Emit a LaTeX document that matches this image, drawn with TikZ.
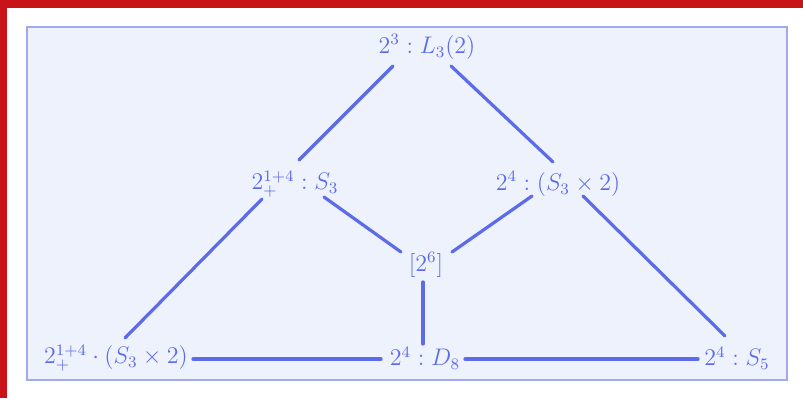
\documentclass[tikz,border=0pt]{standalone}
\usepackage{tikz}
\usetikzlibrary{positioning,calc}
\definecolor{frame}{RGB}{200,20,25}
\definecolor{panel}{RGB}{238,242,253}
\definecolor{rim}{RGB}{160,168,242}
\definecolor{ink}{RGB}{92,108,232}
\tikzset{
  grp/.style={text=ink, font=\large, inner sep=2pt},
  incl/.style={draw=ink, line width=1.6pt, line cap=round}
}

\begin{document}
\begin{tikzpicture}[x=0.5pt, y=-0.5pt]
  \fill[frame] (0,0) rectangle (803,398);
  \fill[white] (7,8) rectangle (803,398);
  \useasboundingbox (0,0) rectangle (803,398);
  \draw[rim, fill=panel, line width=1pt] (27,27) rectangle (787,380);
  % subgroups
  \node[grp] (top) at (427,47) {$2^3:L_3(2)$};
  \node[grp] (lmid) at (295,184) {$2^{1+4}_{+}:S_3$};
  \node[grp] (rmid) at (558,184) {$2^4:(S_3\times 2)$};
  \node[grp] (core) at (426,265) {$[2^6]$};
  \node[grp] (bl) at (116,358) {$2^{1+4}_{+}\cdot(S_3\times 2)$};
  \node[grp] (bc) at (425,358) {$2^4:D_8$};
  \node[grp] (br) at (737,358) {$2^4:S_5$};
  % inclusions
  \draw[incl] ($(top)+(-34,19)$) -- ($(lmid)+(4,-24)$);
  \draw[incl] ($(top)+(24,19)$) -- ($(rmid)+(-5,-22)$);
  \draw[incl] ($(lmid)+(29,13)$) -- ($(core)+(-25,-13)$);
  \draw[incl] ($(rmid)+(-26,12)$) -- ($(core)+(26,-13)$);
  \draw[incl] ($(lmid)+(-33,15)$) -- ($(bl)+(9,-20)$);
  \draw[incl] ($(rmid)+(25,12)$) -- ($(br)+(-12,-22)$);
  \draw[incl] ($(core)+(-3,17)$) -- ($(bc)+(-2,-14)$);
  \draw[incl] ($(bl)+(77,1)$) -- ($(bc)+(-44,1)$);
  \draw[incl] ($(bc)+(40,1)$) -- ($(br)+(-39,1)$);
\end{tikzpicture}
\end{document}
